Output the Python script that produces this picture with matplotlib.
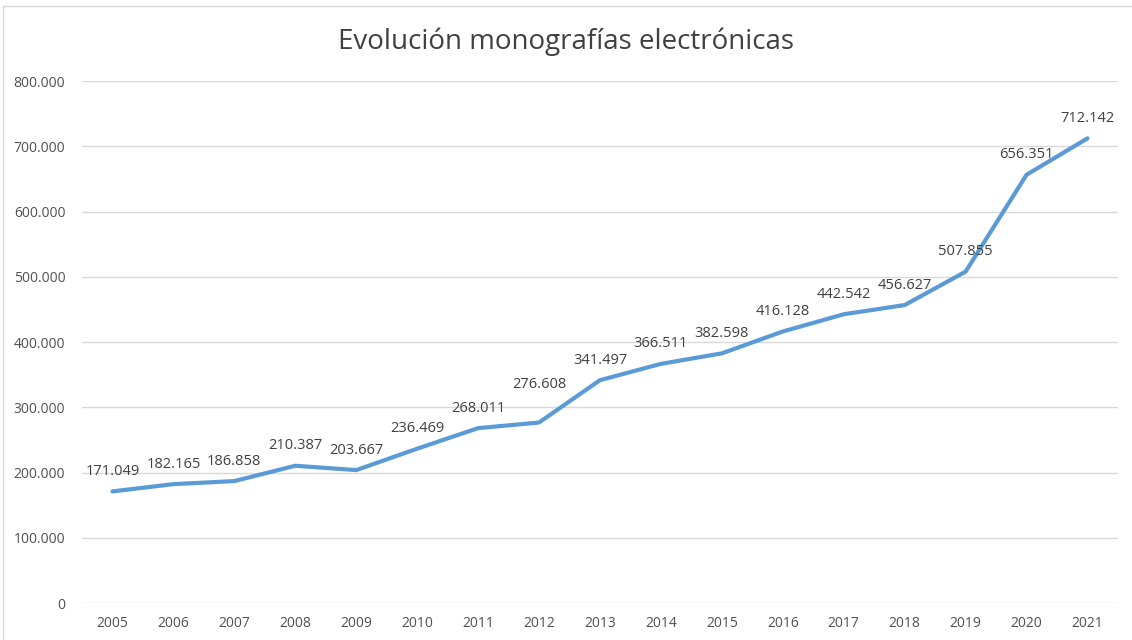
import matplotlib
matplotlib.use("Agg")
import matplotlib.pyplot as plt
from matplotlib.ticker import FuncFormatter
from matplotlib.lines import Line2D

years = ["2005", "2006", "2007", "2008", "2009", "2010", "2011", "2012", "2013",
         "2014", "2015", "2016", "2017", "2018", "2019", "2020", "2021"]
values = [171049, 182165, 186858, 210387, 203667, 236469, 268011, 276608, 341497,
          366511, 382598, 416128, 442542, 456627, 507855, 656351, 712142]
y_ticks = [0, 100000, 200000, 300000, 400000, 500000, 600000, 700000, 800000]

plt.rcParams['font.family'] = ['Open Sans', 'DejaVu Sans']


def miles(v):
    # thousands separator with dots, spanish style
    return f"{int(round(v)):,}".replace(",", ".")


fig = plt.figure(figsize=(11.32, 6.4), dpi=100)
ax = fig.add_axes([0.0724, 0.0578, 0.9152, 0.8156])

x = list(range(len(years)))
ax.plot(x, values, color="#5B9BD5", linewidth=3, solid_capstyle="round",
        solid_joinstyle="round", zorder=3)

for xi, v in zip(x, values):
    dy = 9
    if years[xi] == "2012":
        dy = 22  # excel pushed this one up
    ax.annotate(miles(v), (xi, v), xytext=(0, dy), textcoords="offset points",
                ha="center", va="bottom", fontsize=10.5, color="#404040", zorder=4)

ax.set_xlim(-0.5, len(years) - 0.5)
ax.set_ylim(0, 800000)
ax.set_yticks(y_ticks)
ax.yaxis.set_major_formatter(FuncFormatter(lambda v, p: miles(v)))
ax.set_xticks(x)
ax.set_xticklabels(years)
ax.tick_params(axis="both", length=0, labelsize=10, colors="#505050")
ax.tick_params(axis="y", pad=12)
ax.tick_params(axis="x", pad=9)
ax.grid(axis="y", color="#D9D9D9", linewidth=1)
ax.set_axisbelow(True)
for s in ax.spines.values():
    s.set_visible(False)

fig.text(0.5, 0.935, "Evolución monografías electrónicas", ha="center", va="center",
         fontsize=20, color="#404040")

# thin chart border at top and left
fig.add_artist(Line2D([3 / 1132, 3 / 1132], [0, 1 - 6 / 640], color="#D9D9D9", linewidth=1))
fig.add_artist(Line2D([3 / 1132, 1], [1 - 6 / 640, 1 - 6 / 640], color="#D9D9D9", linewidth=1))

fig.savefig("out.png", dpi=100)
